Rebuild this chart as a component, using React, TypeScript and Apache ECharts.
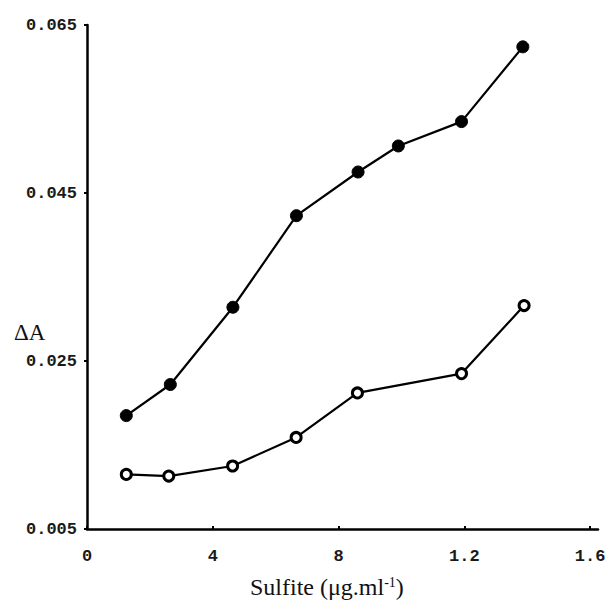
import React, { useEffect, useRef } from "react";
import * as echarts from "echarts";

const xFilled = [0.125, 0.265, 0.464, 0.666, 0.862, 0.99, 1.191, 1.386];
const yFilled = [0.0185, 0.0222, 0.0314, 0.0423, 0.0475, 0.0506, 0.0535, 0.0624];
const xOpen = [0.125, 0.26, 0.463, 0.665, 0.86, 1.191, 1.39];
const yOpen = [0.0115, 0.0113, 0.0125, 0.0159, 0.0212, 0.0235, 0.0316];
const xTickValues = [0, 0.4, 0.8, 1.2, 1.6];
const xTickLabels = ["0", "4", "8", "1.2", "1.6"];
const yTickValues = [0.005, 0.025, 0.045, 0.065];
const yTickLabels = ["0.005", "0.025", "0.045", "0.065"];

export default function App() {
  const ref = useRef<HTMLDivElement>(null);
  useEffect(() => {
    document.body.style.margin = "0";
    const chart = echarts.init(ref.current!, null, { renderer: "svg" });
    const filled = xFilled.map((x, i) => [x, yFilled[i]]);
    const open = xOpen.map((x, i) => [x, yOpen[i]]);
    const monoLabel = {
      fontFamily: "Liberation Mono",
      fontSize: 17,
      fontWeight: "bold" as const,
      color: "#1a1a1a",
    };
    chart.setOption({
      animation: false,
      backgroundColor: "#fff",
      grid: { left: 87, right: 11, top: 25, bottom: 74, containLabel: false },
      xAxis: {
        type: "value",
        min: 0,
        max: 1.625,
        interval: 0.4,
        splitLine: { show: false },
        axisLine: { show: true, lineStyle: { color: "#000", width: 2.5 } },
        axisTick: { show: true, inside: true, length: 3, lineStyle: { color: "#000", width: 2 } },
        axisLabel: {
          ...monoLabel,
          margin: 19,
          showMaxLabel: false,
          formatter: (v: number) => {
            const i = xTickValues.findIndex((t) => Math.abs(t - v) < 1e-6);
            return i >= 0 ? xTickLabels[i] : "";
          },
        },
      },
      yAxis: {
        type: "value",
        min: 0.005,
        max: 0.065,
        interval: 0.02,
        splitLine: { show: false },
        axisLine: { show: true, lineStyle: { color: "#000", width: 2.5 } },
        axisTick: { show: true, length: 3, lineStyle: { color: "#000", width: 2 } },
        axisLabel: {
          ...monoLabel,
          margin: 10,
          formatter: (v: number) => {
            const i = yTickValues.findIndex((t) => Math.abs(t - v) < 1e-6);
            return i >= 0 ? yTickLabels[i] : "";
          },
        },
      },
      graphic: [
        {
          type: "text",
          left: 14,
          top: 321,
          style: { text: "ΔA", font: "23px 'Liberation Serif'", fill: "#111" },
        },
        {
          type: "text",
          left: 250,
          top: 575,
          style: {
            text: "{a|Sulfite (μg.ml}{s|-1}{a|)}",
            rich: {
              a: { fontFamily: "Liberation Serif", fontSize: 24, fill: "#111", color: "#111" },
              s: { fontFamily: "Liberation Serif", fontSize: 14, fill: "#111", color: "#111", verticalAlign: "top", padding: [0, 0, 10, 0] },
            },
          },
        },
      ],
      series: [
        {
          type: "line",
          data: filled,
          symbol: "circle",
          symbolSize: 12,
          lineStyle: { color: "#000", width: 2.2 },
          itemStyle: { color: "#000", borderColor: "#000" },
        },
        {
          type: "line",
          data: open,
          symbol: "circle",
          symbolSize: 10,
          lineStyle: { color: "#000", width: 2.2 },
          itemStyle: { color: "#fff", borderColor: "#000", borderWidth: 3 },
        },
      ],
    });
    return () => chart.dispose();
  }, []);
  return <div ref={ref} style={{ width: 609, height: 603 }} />;
}
